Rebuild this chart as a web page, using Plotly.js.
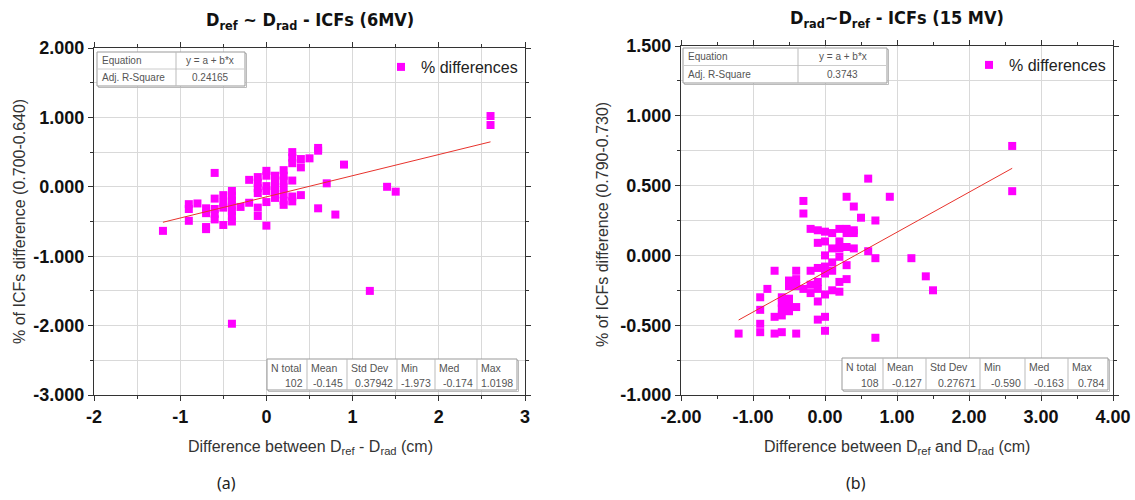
<!DOCTYPE html>
<html><head><meta charset="utf-8">
<script src="https://cdn.plot.ly/plotly-3.0.1.min.js"></script>
<style>html,body{margin:0;padding:0;background:#fff;}#chart{width:1135px;height:500px;}</style>
</head><body><div id="chart"></div>
<script>
// ---- Panel (a): 6MV ----
const xA = [-1.2,
  -0.9,-0.9,-0.9,
  -0.8,
  -0.7,-0.7,-0.7,-0.7,
  -0.6,-0.6,-0.6,-0.6,-0.6,
  -0.5,-0.5,-0.5,-0.5,
  -0.4,-0.4,-0.4,-0.4,-0.4,-0.4,-0.4,-0.4,
  -0.3,
  -0.2,-0.2,
  -0.1,-0.1,-0.1,-0.1,-0.1,-0.1,
  0,0,0,0,0,0,
  0.1,0.1,0.1,0.1,0.1,
  0.2,0.2,0.2,0.2,0.2,0.2,0.2,
  0.3,0.3,0.3,0.3,0.3,0.3,
  0.4,0.4,0.4,
  0.5,
  0.6,0.6,0.6,
  0.7, 0.8, 0.9, 1.2, 1.4, 1.5,
  2.6,2.6];
const yA = [-0.635,
  -0.25,-0.32,-0.49,
  -0.24,
  -0.31,-0.38,-0.58,-0.61,
  0.20,-0.17,-0.32,-0.39,-0.47,
  -0.12,-0.23,-0.30,-0.55,
  -0.06,-0.13,-0.20,-0.27,-0.35,-0.42,-0.50,-1.973,
  -0.29,
  0.10,-0.23,
  0.14,0.06,-0.02,-0.09,-0.30,-0.42,
  0.23,0.16,0.01,-0.06,-0.22,-0.56,
  0.16,0.09,-0.01,-0.09,-0.16,
  0.24,0.16,0.09,-0.01,-0.11,-0.20,-0.26,
  0.50,0.42,0.34,0.09,-0.14,-0.21,
  0.40,0.28,-0.12,
  0.41,
  0.56,0.52,-0.31,
  0.05, -0.40, 0.32, -1.50, 0.00, -0.07,
  1.0198,0.89];
const fitXA = [-1.2, 2.6];
const fitYA = [-0.511, 0.648];
const eqA = ["Equation", "y = a + b*x", "Adj. R-Square", "0.24165"];
const statHeadA = ["N total", "Mean", "Std Dev", "Min", "Med", "Max"];
const statValA = ["102", "-0.145", "0.37942", "-1.973", "-0.174", "1.0198"];
const xTickValsA = [-2, -1, 0, 1, 2, 3];
const xTickTextA = ["-2", "-1", "0", "1", "2", "3"];
const yTickValsA = [-3, -2, -1, 0, 1, 2];
const yTickTextA = ["-3.000", "-2.000", "-1.000", "0.000", "1.000", "2.000"];

// ---- Panel (b): 15 MV ----
const xB = [-1.2,
  -0.9,-0.9,-0.9,-0.9,
  -0.8,
  -0.7,-0.7,-0.7,
  -0.6,-0.6,-0.6,-0.6,-0.6,
  -0.5,-0.5,-0.5,-0.5,-0.5,
  -0.4,-0.4,-0.4,-0.4,-0.4,
  -0.3,-0.3,-0.3,
  -0.2,-0.2,-0.2,-0.2,
  -0.1,-0.1,-0.1,-0.1,-0.1,-0.1,-0.1,
  0,0,0,0,0,0,0,0,
  0.1,0.1,0.1,0.1,0.1,
  0.2,0.2,0.2,0.2,0.2,0.2,
  0.3,0.3,0.3,0.3,0.3,0.3,
  0.4,0.4,0.4,0.4,
  0.5,
  0.6,0.6,
  0.7,0.7,0.7,
  0.9, 1.2, 1.4, 1.5,
  2.6,2.6];
const yB = [-0.56,
  -0.30,-0.39,-0.49,-0.55,
  -0.24,
  -0.11,-0.44,-0.56,
  -0.30,-0.34,-0.38,-0.43,-0.55,
  -0.18,-0.22,-0.31,-0.36,-0.40,
  -0.11,-0.17,-0.22,-0.37,-0.56,
  0.39,0.30,-0.24,
  0.19,-0.11,-0.21,-0.27,
  0.18,0.09,-0.09,-0.19,-0.24,-0.33,-0.46,
  0.17,0.10,0.00,-0.08,-0.13,-0.28,-0.44,-0.54,
  0.16,0.05,-0.05,-0.11,-0.25,
  0.19,0.10,0.05,-0.01,-0.19,-0.26,
  0.42,0.19,0.16,0.06,-0.07,-0.17,
  0.35,0.18,0.16,0.05,
  0.27,
  0.55,0.03,
  0.25,-0.02,-0.590,
  0.42, -0.02, -0.15, -0.25,
  0.784,0.46];
const fitXB = [-1.2, 2.6];
const fitYB = [-0.463, 0.624];
const eqB = ["Equation", "y = a + b*x", "Adj. R-Square", "0.3743"];
const statHeadB = ["N total", "Mean", "Std Dev", "Min", "Med", "Max"];
const statValB = ["108", "-0.127", "0.27671", "-0.590", "-0.163", "0.784"];
const xTickValsB = [-2, -1, 0, 1, 2, 3, 4];
const xTickTextB = ["-2.00", "-1.00", "0.00", "1.00", "2.00", "3.00", "4.00"];
const yTickValsB = [-1, -0.5, 0, 0.5, 1, 1.5];
const yTickTextB = ["-1.000", "-0.500", "0.000", "0.500", "1.000", "1.500"];

const titleA = "D<sub>ref</sub> ~ D<sub>rad</sub> - ICFs (6MV)";
const titleB = "D<sub>rad</sub>~D<sub>ref</sub> - ICFs (15 MV)";
const xTitleA = "Difference between D<sub>ref</sub> - D<sub>rad</sub> (cm)";
const xTitleB = "Difference between D<sub>ref</sub> and D<sub>rad</sub> (cm)";
const yTitleA = "% of ICFs difference (0.700-0.640)";
const yTitleB = "% of ICFs difference (0.790-0.730)";
const seriesName = "% differences";

// ---- layout helpers (pixel -> paper) ----
const W = 1135, H = 500;
const px = v => v / W, py = v => 1 - v / H;
const MAG = "#ff00ff";
const GRID = "#d9d9d9";
const TXT = "#555";

const traces = [
  {x: xA, y: yA, type: "scatter", mode: "markers", name: seriesName, xaxis: "x", yaxis: "y",
   marker: {symbol: "square", size: 8, color: MAG}, legend: "legend"},
  {x: fitXA, y: fitYA, type: "scatter", mode: "lines", showlegend: false, xaxis: "x", yaxis: "y",
   line: {color: "#e8322c", width: 1}},
  {x: xB, y: yB, type: "scatter", mode: "markers", name: seriesName, xaxis: "x2", yaxis: "y2",
   marker: {symbol: "square", size: 8, color: MAG}, legend: "legend2"},
  {x: fitXB, y: fitYB, type: "scatter", mode: "lines", showlegend: false, xaxis: "x2", yaxis: "y2",
   line: {color: "#e8322c", width: 1}}
];

const tickFont = {family: "Liberation Sans, Arial, sans-serif", size: 18, color: "#111", weight: "bold"};
function axisBase(extra) {
  return Object.assign({
    showline: true, linecolor: "#333", linewidth: 1.2, mirror: "ticks",
    ticks: "outside", ticklen: 5, tickcolor: "#333", tickwidth: 1,
    showgrid: true, gridcolor: GRID, gridwidth: 1, zeroline: false,
    tickfont: tickFont, fixedrange: true, tickmode: "array"
  }, extra);
}

const layout = {
  width: W, height: H, margin: {l: 0, r: 0, t: 0, b: 0},
  paper_bgcolor: "#fff", plot_bgcolor: "#fff", hovermode: false,
  xaxis: axisBase({domain: [px(94), px(525)], anchor: "y", range: [-2, 3], tickvals: xTickValsA, ticktext: xTickTextA,
    minor: {dtick: 0.5, tick0: 0, showgrid: true, gridcolor: GRID, ticks: "outside", ticklen: 3, tickcolor: "#333"}}),
  yaxis: axisBase({domain: [py(395), py(48)], anchor: "x", range: [-3, 2], tickvals: yTickValsA, ticktext: yTickTextA,
    minor: {dtick: 0.5, tick0: 0, showgrid: true, gridcolor: GRID, ticks: "outside", ticklen: 3, tickcolor: "#333"}}),
  xaxis2: axisBase({domain: [px(681), px(1113)], anchor: "y2", range: [-2, 4], tickvals: xTickValsB, ticktext: xTickTextB,
    minor: {dtick: 0.5, tick0: 0, showgrid: false, ticks: "outside", ticklen: 3, tickcolor: "#333"}}),
  yaxis2: axisBase({domain: [py(395), py(46)], anchor: "x2", range: [-1, 1.5], tickvals: yTickValsB, ticktext: yTickTextB,
    minor: {dtick: 0.25, tick0: 0, showgrid: true, gridcolor: GRID, ticks: "outside", ticklen: 3, tickcolor: "#333"}}),
  legend: {x: px(523), y: py(50), xanchor: "right", yanchor: "top", bgcolor: "rgba(0,0,0,0)",
    font: {family: "Liberation Sans, Arial, sans-serif", size: 16, color: "#222"}, itemwidth: 30},
  legend2: {x: px(1111), y: py(48), xanchor: "right", yanchor: "top", bgcolor: "rgba(0,0,0,0)",
    font: {family: "Liberation Sans, Arial, sans-serif", size: 16, color: "#222"}, itemwidth: 30},
  shapes: [], annotations: []
};

function ann(text, x, y, opts) {
  layout.annotations.push(Object.assign({text: text, x: px(x), y: py(y), xref: "paper", yref: "paper",
    showarrow: false, xanchor: "center", yanchor: "middle",
    font: {family: "Liberation Sans, Arial, sans-serif", size: 10, color: TXT}}, opts || {}));
}
function rect(x0, y0, x1, y1) {
  layout.shapes.push({type: "rect", xref: "paper", yref: "paper", x0: px(x0 + 1.5), x1: px(x1 + 1.5), y0: py(y0 + 1.5), y1: py(y1 + 1.5),
    line: {color: "#bbb", width: 1}, fillcolor: "rgba(0,0,0,0)", layer: "above"});
  layout.shapes.push({type: "rect", xref: "paper", yref: "paper", x0: px(x0), x1: px(x1), y0: py(y0), y1: py(y1),
    line: {color: "#999", width: 1}, fillcolor: "#fff", layer: "above"});
}
function hline(x0, x1, y) {
  layout.shapes.push({type: "line", xref: "paper", yref: "paper", x0: px(x0), x1: px(x1), y0: py(y), y1: py(y),
    line: {color: "#ccc", width: 1}, layer: "above"});
}
function vline(x, y0, y1) {
  layout.shapes.push({type: "line", xref: "paper", yref: "paper", x0: px(x), x1: px(x), y0: py(y0), y1: py(y1),
    line: {color: "#bbb", width: 1}, layer: "above"});
}

function eqTable(eq, x0, x1, xd, y0, y1) {
  rect(x0, y0, x1, y1);
  const ym = (y0 + y1) / 2;
  hline(x0, x1, ym);
  vline(xd, y0, y1);
  ann(eq[0], x0 + 3, (y0 + ym) / 2, {xanchor: "left"});
  ann(eq[1], (xd + x1) / 2, (y0 + ym) / 2);
  ann(eq[2], x0 + 3, (ym + y1) / 2, {xanchor: "left"});
  ann(eq[3], (xd + x1) / 2, (ym + y1) / 2);
}
function statTable(head, vals, cols, y0, y1) {
  rect(cols[0], y0, cols[cols.length - 1], y1);
  const ym = (y0 + y1) / 2;
  for (let i = 1; i < cols.length - 1; i++) vline(cols[i], y0, y1);
  for (let i = 0; i < head.length; i++) {
    ann(head[i], cols[i] + 2, (y0 + ym) / 2 + 1, {xanchor: "left", font: {family: "Liberation Sans, Arial, sans-serif", size: 10.5, color: TXT}});
    ann(vals[i], cols[i + 1] - 2, (ym + y1) / 2 + 1, {xanchor: "right", font: {family: "Liberation Sans, Arial, sans-serif", size: 10.5, color: TXT}});
  }
}

eqTable(eqA, 97, 245, 176, 52, 86);
eqTable(eqB, 683, 887, 798, 48, 83);
statTable(statHeadA, statValA, [267, 307, 347, 397, 435, 477, 517], 359, 390);
statTable(statHeadB, statValB, [842, 883, 926, 980, 1025, 1068, 1108], 358, 390);

const titleFont = {family: "DejaVu Sans Condensed, Liberation Sans Narrow, Arial Narrow, sans-serif", size: 18, color: "#111", weight: "bold"};
ann(titleA, 310, 21, {font: titleFont});
ann(titleB, 897, 19, {font: titleFont});
const axFont = {family: "Liberation Sans, Arial, sans-serif", size: 16, color: "#333"};
ann(xTitleA, 310, 447, {font: axFont});
ann(xTitleB, 897, 447, {font: axFont});
ann(yTitleA, 20, 222, {font: axFont, textangle: -90});
ann(yTitleB, 603, 225, {font: axFont, textangle: -90});
const capFont = {family: "Noto Sans, DejaVu Sans, sans-serif", size: 16, color: "#222"};
ann("(a)", 226, 483, {font: capFont});
ann("(b)", 856, 483, {font: capFont});

Plotly.newPlot("chart", traces, layout, {staticPlot: true, displayModeBar: false});
</script>
</body></html>
